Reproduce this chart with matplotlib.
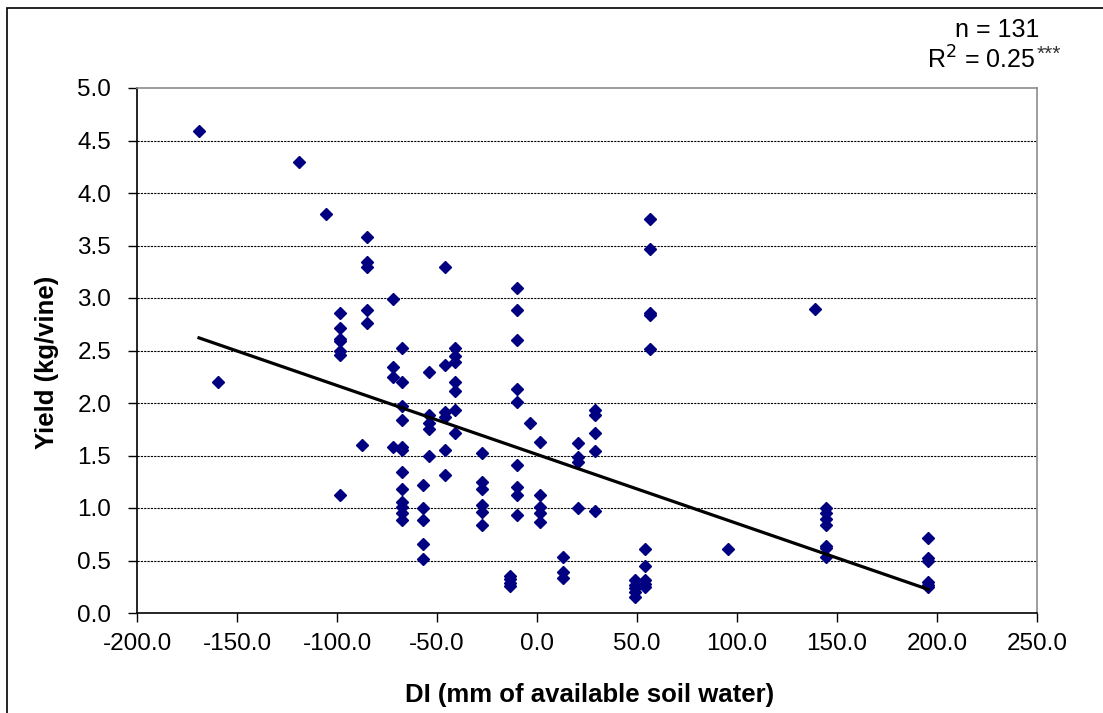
import matplotlib
matplotlib.use('Agg')
from matplotlib import pyplot as plt
from matplotlib.patches import Rectangle
import numpy as np

plt.rcParams['font.family'] = ['Liberation Sans', 'DejaVu Sans']

# DI (mm of available soil water) and yield (kg/vine)
di = [
    -169, -159.5, -119, -105.5,
    -98.5, -98.5, -98.5, -98.5, -98.5, -98.5, -98.5,
    -85, -85, -85, -85, -85, -87.5,
    -72, -72, -72, -72,
    -67.5, -67.5, -67.5, -67.5, -67.5, -67.5, -67.5, -67.5, -67.5, -67.5, -67.5, -67.5,
    -57, -57, -57, -57, -57,
    -54, -54, -54, -54, -54,
    -46, -46, -46, -46, -46, -46,
    -41, -41, -41, -41, -41, -41, -41,
    -27.5, -27.5, -27.5, -27.5, -27.5, -27.5,
    -13.5, -13.5, -13.5, -13.5,
    -10, -10, -10, -10, -10, -10, -10, -10, -10,
    -3.5,
    1.5, 1.5, 1.5, 1.5, 1.5,
    13, 13, 13,
    20.5, 20.5, 20.5, 20.5,
    29, 29, 29, 29, 29,
    49, 49, 49, 49, 49,
    54, 54, 54, 54, 54,
    56.5, 56.5, 56.5, 56.5, 56.5,
    95.5, 139,
    144.5, 144.5, 144.5, 144.5, 144.5, 144.5, 144.5,
    195.5, 195.5, 195.5, 195.5, 195.5, 195.5,
]
yield_kg = [
    4.59, 2.2, 4.3, 3.8,
    2.86, 2.71, 2.61, 2.59, 2.5, 2.46, 1.12,
    3.58, 3.34, 3.3, 2.89, 2.76, 1.6,
    2.99, 2.34, 2.25, 1.58,
    2.52, 2.2, 1.97, 1.84, 1.58, 1.55, 1.34, 1.18, 1.06, 1.01, 0.95, 0.89,
    1.22, 1.0, 0.89, 0.66, 0.51,
    2.3, 1.89, 1.81, 1.75, 1.5,
    3.3, 2.36, 1.91, 1.87, 1.55, 1.31,
    2.52, 2.45, 2.39, 2.2, 2.11, 1.93, 1.71,
    1.52, 1.25, 1.18, 1.03, 0.96, 0.84,
    0.35, 0.32, 0.29, 0.26,
    3.1, 2.89, 2.6, 2.13, 2.01, 1.41, 1.2, 1.12, 0.93,
    1.81,
    1.63, 1.12, 1.01, 0.95, 0.87,
    0.53, 0.39, 0.33,
    1.62, 1.49, 1.44, 1.0,
    1.93, 1.89, 1.71, 1.54, 0.97,
    0.31, 0.27, 0.24, 0.2, 0.15,
    0.61, 0.45, 0.31, 0.28, 0.25,
    3.75, 3.47, 2.86, 2.84, 2.51,
    0.61, 2.9,
    1.0, 0.95, 0.9, 0.84, 0.64, 0.62, 0.53,
    0.71, 0.52, 0.5, 0.3, 0.27, 0.25,
]

# linear fit shown on the chart
fit_slope = -0.00657
fit_intercept = 1.51

x_ticks = np.arange(-200, 251, 50)
y_ticks = np.arange(0, 5.01, 0.5)


def main():
    fig = plt.figure(figsize=(11.03, 7.13), dpi=100)
    ax = fig.add_axes([137 / 1103, 100 / 713, 900 / 1103, 525 / 713])

    # outer chart border (clipped at right and bottom like the original)
    fig.patches.append(Rectangle((7 / 1103, -0.05), 1.2, (713 - 8) / 713 + 0.05,
                                 transform=fig.transFigure, fill=False,
                                 edgecolor='black', linewidth=1.2))

    for yv in y_ticks[1:-1]:
        ax.axhline(yv, color='black', linewidth=0.8, dashes=(2.0, 1.0), zorder=1)

    ax.plot(di, yield_kg, linestyle='none', marker='D', markersize=6.5,
            color='#000080', markeredgecolor='#000080', zorder=3)

    fx = np.array([min(di), max(di)])
    ax.plot(fx, fit_slope * fx + fit_intercept, color='black', linewidth=2.3, zorder=4)

    ax.set_xlim(-200, 250)
    ax.set_ylim(0, 5)
    ax.set_xticks(x_ticks)
    ax.set_yticks(y_ticks)
    ax.set_xticklabels(['%.1f' % v for v in x_ticks])
    ax.set_yticklabels(['%.1f' % v for v in y_ticks])
    ax.tick_params(axis='x', direction='out', length=6.5, width=1, pad=8, labelsize=17.5)
    ax.tick_params(axis='y', direction='out', length=6.5, width=1, pad=12, labelsize=17.5)

    for side in ['left', 'bottom']:
        ax.spines[side].set_color('black')
        ax.spines[side].set_linewidth(1.2)
    for side in ['top', 'right']:
        ax.spines[side].set_color('#8c8c8c')
        ax.spines[side].set_linewidth(1.2)

    fig.text(47 / 1103, 1 - 362 / 713, 'Yield (kg/vine)', rotation=90,
             ha='center', va='center', fontsize=18.5, fontweight='bold')
    fig.text(590 / 1103, 1 - 695 / 713, 'DI (mm of available soil water)',
             ha='center', va='center', fontsize=18.5, fontweight='bold')

    fig.text(997 / 1103, 1 - 30 / 713, 'n = 131', ha='center', va='center', fontsize=18)
    r2 = fig.text(1035 / 1103, 1 - 60 / 713, r'R$^2$ = 0.25', ha='right',
                  va='center', fontsize=18)
    ax.annotate('***', xy=(1, 1), xycoords=r2, xytext=(1, 1),
                textcoords='offset points', ha='left', va='top',
                fontsize=15, color='#333333', annotation_clip=False)

    fig.savefig('out.png', dpi=100)


if __name__ == '__main__':
    main()
